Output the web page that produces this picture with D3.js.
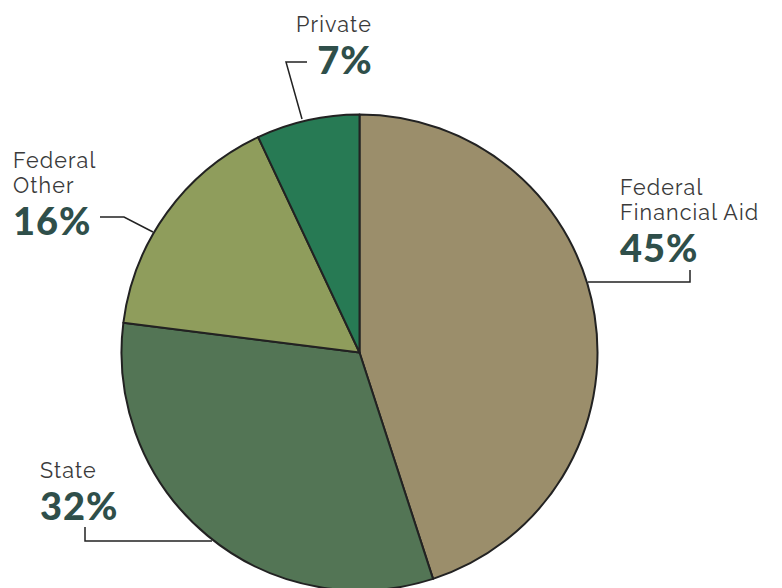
<!DOCTYPE html>
<html><head><meta charset="utf-8">
<script src="https://cdn.jsdelivr.net/npm/d3@7"></script>
<style>body{margin:0;background:#fff}svg{display:block}</style>
</head><body>
<svg id="c" width="782" height="588"></svg>
<script>
const categories = ["Federal Financial Aid", "State", "Federal Other", "Private"];
const values = [45, 32, 16, 7];
const labelLines = [["Federal", "Financial Aid"], ["State"], ["Federal", "Other"], ["Private"]];
const colors = ["#9b8e6b", "#537555", "#8f9d5c", "#277a54"];

const svg = d3.select("#c");
const cx = 359.5, cy = 352.5, r = 238;
const g = svg.append("g").attr("transform", `translate(${cx},${cy})`);
const pie = d3.pie().sort(null).value(d => d)(values);
const arc = d3.arc().innerRadius(0).outerRadius(r);
g.selectAll("path").data(pie).join("path")
  .attr("d", arc)
  .attr("fill", (d, i) => colors[i])
  .attr("stroke", "#222")
  .attr("stroke-width", 2)
  .attr("stroke-linejoin", "round");

// label layout (positions kept separate from data)
const layout = [
  {x: 620, y: 195, anchor: "start", leader: [[690, 270], [690, 282], [588, 282]]},
  {x: 40, y: 478, anchor: "start", leader: [[85, 527], [85, 541], [212, 541]]},
  {x: 13, y: 168, anchor: "start", leader: [[100, 217], [124, 217], [153, 232]]},
  {x: 334, y: 32, anchor: "middle", leader: [[307, 62], [286, 62], [302, 119]]}
];
const lineH = 24.5;
categories.forEach((c, i) => {
  const L = layout[i];
  const lines = labelLines[i];
  lines.forEach((t, j) => {
    svg.append("text").attr("x", L.x).attr("y", L.y + j * lineH)
      .attr("text-anchor", L.anchor)
      .attr("font-family", "Raleway, Lato, 'Open Sans', sans-serif")
      .attr("font-size", 21.5).attr("fill", "#3a3a3a")
      .attr("letter-spacing", 1.1)
      .text(t);
  });
  const nx = L.anchor === "middle" ? L.x + 11 : L.x;
  svg.append("text").attr("x", nx).attr("y", L.y + (lines.length - 1) * lineH + 42)
    .attr("text-anchor", L.anchor)
    .attr("font-family", "Lato, 'Open Sans', sans-serif")
    .attr("font-weight", 900)
    .attr("font-size", 38).attr("fill", "#2f4f4a")
    .attr("letter-spacing", 1)
    .text(values[i] + "%");
  svg.append("path").attr("d", d3.line()(L.leader))
    .attr("fill", "none").attr("stroke", "#222").attr("stroke-width", 1.5);
});
</script>
</body></html>
